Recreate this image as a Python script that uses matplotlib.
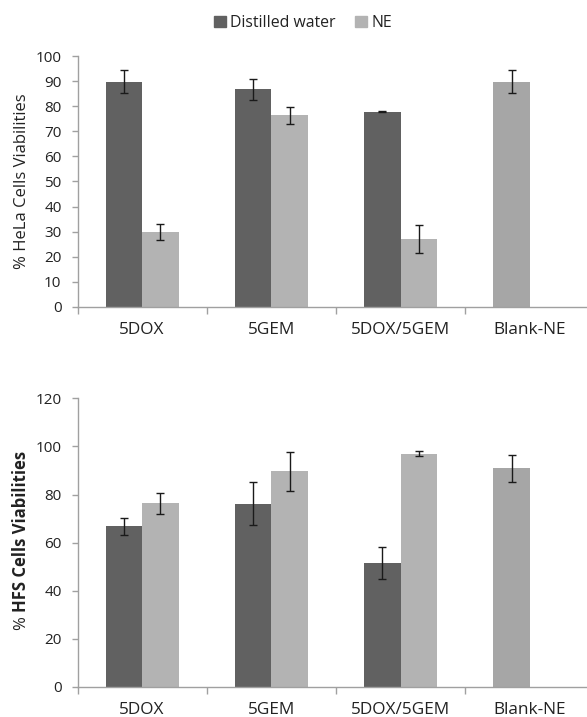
import matplotlib; matplotlib.use('Agg')
import numpy as np
from matplotlib import pyplot as plt
from matplotlib.patches import Patch

plt.rcParams.update({
    'font.family': ['Open Sans', 'DejaVu Sans'],
    'font.size': 11,
})

DARK = '#616161'   # distilled water
LIGHT = '#b3b3b3'  # NE
BLANK = '#a6a6a6'  # blank-NE point
AXIS = '#a0a0a0'

categories = ['5DOX', '5GEM', '5DOX/5GEM', 'Blank-NE']

# HeLa cells (top panel)
hela_water = [89.8, 86.8, 77.8, 89.8]
hela_water_err = [4.6, 4.2, 0.3, 4.6]
hela_ne = [29.9, 76.4, 27.0, np.nan]
hela_ne_err = [3.2, 3.4, 5.6, 0.0]

# HFS cells (bottom panel)
hfs_water = [66.8, 76.2, 51.5, 91.0]
hfs_water_err = [3.5, 9.0, 6.6, 5.6]
hfs_ne = [76.4, 89.6, 96.9, np.nan]
hfs_ne_err = [4.4, 8.0, 1.0, 0.0]

fig = plt.figure(figsize=(5.87, 7.17), dpi=100)
ax1 = fig.add_axes([77.5 / 587, 410 / 717, 509.5 / 587, 251 / 717])
ax2 = fig.add_axes([77.5 / 587, 30 / 717, 509.5 / 587, 288.7 / 717])

width = 0.283
x = np.arange(len(categories))
err_kw = {'ecolor': '#1a1a1a', 'elinewidth': 1.0, 'capsize': 3, 'capthick': 1.0}


def draw(ax, water, water_err, ne, ne_err, ymax, ystep):
    colors = [DARK] * 3 + [BLANK]
    ax.bar(x - width / 2, water, width, color=colors, yerr=water_err,
           error_kw=err_kw, zorder=2)
    ax.bar(x + width / 2, ne, width, color=LIGHT, yerr=ne_err,
           error_kw=err_kw, zorder=2)
    ax.set_xlim(-0.5, -0.5 + 509.5 / 129.3)
    ax.set_ylim(0, ymax)
    ax.set_yticks(np.arange(0, ymax + 1, ystep))
    for s in ['top', 'right']:
        ax.spines[s].set_visible(False)
    for s in ['left', 'bottom']:
        ax.spines[s].set_color(AXIS)
        ax.spines[s].set_linewidth(1.0)
    # category separators as major ticks, labels on minor ticks
    ax.set_xticks(np.arange(-0.5, len(categories) - 0.5, 1.0))
    ax.set_xticklabels([])
    ax.set_xticks(x, minor=True)
    ax.set_xticklabels(categories, minor=True, fontsize=12.4,
                       color='#222222')
    ax.tick_params(axis='x', which='major', length=5, color=AXIS, width=1.0)
    ax.tick_params(axis='x', which='minor', length=0, pad=11)
    ax.tick_params(axis='y', length=4.5, color=AXIS, width=1.0, labelsize=11,
                   labelcolor='#222222', pad=7)


draw(ax1, hela_water, hela_water_err, hela_ne, hela_ne_err, 100, 10)
draw(ax2, hfs_water, hfs_water_err, hfs_ne, hfs_ne_err, 120, 20)

ax1.text(-0.109, 0.5, '% HeLa Cells Viabilities', transform=ax1.transAxes,
         rotation=90, ha='center', va='center', fontsize=12,
         color='#222222')

t = ax2.text(-0.111, 0.54, 'HFS Cells Viabilities', transform=ax2.transAxes,
             rotation=90, ha='center', va='center', fontsize=12,
             fontweight='bold', color='#222222')
ax2.annotate('%', xy=(0.5, 0), xycoords=t, xytext=(0, -3),
             textcoords='offset points', rotation=90, ha='center', va='top',
             fontsize=12, color='#222222')

handles = [Patch(color=DARK, label='Distilled water'),
           Patch(color=LIGHT, label='NE')]
fig.legend(handles=handles, loc='center', ncol=2, frameon=False,
           bbox_to_anchor=(303 / 587, 1 - 23 / 717), fontsize=11.4,
           handlelength=0.75, handleheight=0.75, handletextpad=0.3,
           columnspacing=1.2, labelcolor='#222222')

plt.savefig('out.png', dpi=100)
plt.close()
